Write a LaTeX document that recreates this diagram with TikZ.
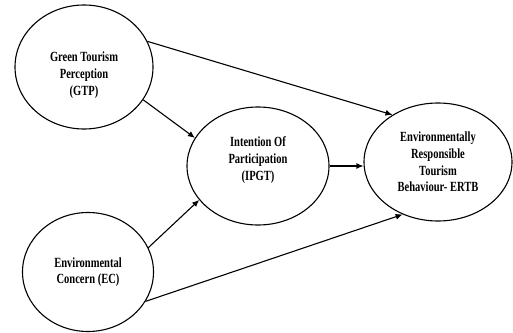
\documentclass[tikz,border=0pt]{standalone}
\usepackage{fontspec}
\usepackage{tikz}
\usetikzlibrary{shapes.geometric,arrows.meta}
\newfontfamily\diagfont[FakeStretch=0.75]{Liberation Serif}

\tikzset{
  bubble/.style={draw, ellipse, line width=1.1pt, inner sep=0pt},
  txt/.style={align=center, font=\diagfont\bfseries\fontsize{14}{16.7}\selectfont},
  link/.style={->, line width=1.1pt},
}

\begin{document}
\begin{tikzpicture}[x=1pt, y=-1pt, >={Latex[length=7pt,width=6pt]}]

  \useasboundingbox (0,0) rectangle (513,332);

  % Constructs
  \node[bubble, minimum width=138, minimum height=124,
        label={[txt, yshift=-8pt]center:Green Tourism\\Perception\\(GTP)}] (gtp) at (84, 67) {};
  \node[bubble, minimum width=131, minimum height=119,
        label={[txt]center:Environmental\\Concern (EC)}] (ec) at (88, 272) {};
  \node[bubble, minimum width=142, minimum height=118,
        label={[txt, yshift=6pt]center:Intention Of\\Participation\\(IPGT)}] (ipgt) at (258, 166) {};
  \node[bubble, minimum width=148, minimum height=118,
        label={[txt]center:Environmentally\\Responsible\\Tourism\\Behaviour- ERTB}] (ertb) at (438, 162) {};

  % Paths
  \draw[link] (gtp.22) -- (ertb.134);
  \draw[link] (gtp.-29) -- (ipgt.156);
  \draw[link] (ec.22) -- (ipgt.210);
  \draw[link] (ec.-27) -- (ertb.236);
  \draw[link] (ipgt.east) -- (ipgt.east -| ertb.west);

\end{tikzpicture}
\end{document}
